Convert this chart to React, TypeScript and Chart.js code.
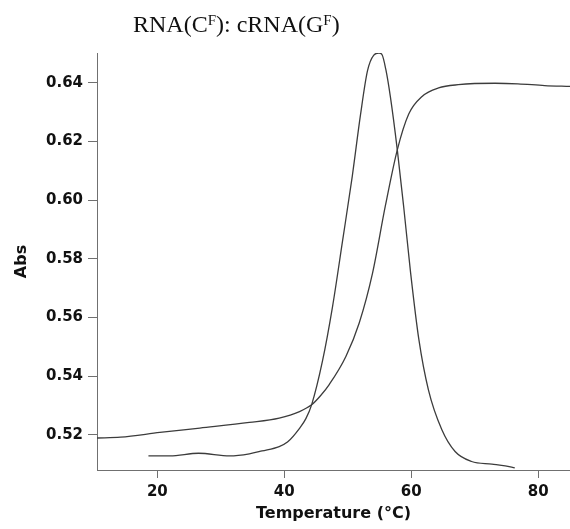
import React, { useEffect, useRef } from "react";
import { Chart, registerables } from "chart.js";

Chart.register(...registerables);

// Melting curve (sigmoid)
const meltTemp = [10.5, 14.2, 20.4, 26.7, 34.5, 39.2, 42.4, 44.3, 45.7, 47.1, 49.7, 51.8, 53.9, 55.9, 57.8, 59.6, 61.7, 64.3, 67.4, 73.2, 76.8, 81.0, 85.0];
const meltAbs = [0.5189, 0.5192, 0.5208, 0.5223, 0.5242, 0.5257, 0.5279, 0.5302, 0.5333, 0.5372, 0.5467, 0.5581, 0.5751, 0.5978, 0.6171, 0.6293, 0.6353, 0.6382, 0.6393, 0.6398, 0.6396, 0.6390, 0.6387];

// Derivative curve (peak)
const derivTemp = [18.6, 22.0, 26.5, 31.4, 34.5, 36.5, 39.2, 40.5, 42.4, 43.4, 44.3, 46.0, 47.6, 49.2, 50.7, 52.0, 53.1, 54.1, 54.9, 55.4, 56.0, 56.7, 57.8, 58.8, 59.9, 61.2, 62.7, 64.8, 66.9, 69.5, 72.7, 74.8, 76.3];
const derivAbs = [0.5128, 0.5128, 0.5137, 0.5128, 0.5135, 0.5145, 0.5160, 0.5175, 0.5222, 0.5255, 0.5302, 0.5450, 0.5637, 0.5864, 0.6080, 0.6290, 0.6440, 0.6494, 0.6501, 0.6495, 0.6444, 0.6353, 0.6171, 0.5978, 0.5751, 0.5524, 0.5353, 0.5218, 0.5143, 0.5109, 0.5100, 0.5094, 0.5087];

const xTicks = [20, 40, 60, 80];
const yTicks = [0.52, 0.54, 0.56, 0.58, 0.6, 0.62, 0.64];

const xMin = 10.5;
const xMax = 85;
const yMin = 0.508;
const yMax = 0.6501;

const lineColor = "#3c3c3c";
const axisColor = "#707070";
const tickFont = { family: "'DejaVu Sans', sans-serif", size: 15, weight: "bold" as const };

export default function App() {
  const ref = useRef<HTMLCanvasElement | null>(null);

  useEffect(() => {
    if (!ref.current) return;
    const chart = new Chart(ref.current, {
      type: "line",
      data: {
        datasets: [
          {
            data: meltTemp.map((t, i) => ({ x: t, y: meltAbs[i] })),
            borderColor: lineColor,
            borderWidth: 1.3,
            pointRadius: 0,
            fill: false,
            cubicInterpolationMode: "monotone",
          },
          {
            data: derivTemp.map((t, i) => ({ x: t, y: derivAbs[i] })),
            borderColor: lineColor,
            borderWidth: 1.3,
            pointRadius: 0,
            fill: false,
            cubicInterpolationMode: "monotone",
          },
        ],
      },
      options: {
        animation: false,
        responsive: false,
        maintainAspectRatio: false,
        layout: { padding: { left: 0, right: 0, top: 53, bottom: 0 } },
        plugins: {
          legend: { display: false },
          tooltip: { enabled: false },
          title: { display: false },
        },
        scales: {
          x: {
            type: "linear",
            min: xMin,
            max: xMax,
            afterBuildTicks: (s: any) => {
              s.ticks = xTicks.map((v) => ({ value: v }));
            },
            afterFit: (s: any) => {
              s.height = 59;
            },
            grid: {
              display: true,
              drawOnChartArea: false,
              drawTicks: true,
              tickLength: 8,
              color: axisColor,
            },
            border: { display: true, color: axisColor, width: 1 },
            ticks: {
              color: "#111",
              font: tickFont,
              padding: 5,
              maxRotation: 0,
              callback: (v: any) => String(v),
            },
            title: {
              display: true,
              text: "Temperature (°C)",
              color: "#111",
              font: { family: "'DejaVu Sans', sans-serif", size: 16, weight: "bold" },
              padding: { top: 0, bottom: 6 },
            },
          },
          y: {
            type: "linear",
            min: yMin,
            max: yMax,
            afterBuildTicks: (s: any) => {
              s.ticks = yTicks.map((v) => ({ value: v }));
            },
            afterFit: (s: any) => {
              s.width = 97;
            },
            grid: {
              display: true,
              drawOnChartArea: false,
              drawTicks: true,
              tickLength: 9,
              color: axisColor,
            },
            border: { display: true, color: axisColor, width: 1 },
            ticks: {
              color: "#111",
              font: tickFont,
              padding: 5,
              callback: (v: any) => Number(v).toFixed(2),
            },
            title: {
              display: true,
              text: "Abs",
              color: "#111",
              font: { family: "'DejaVu Sans', sans-serif", size: 16, weight: "bold" },
              padding: { top: 12, bottom: 0 },
            },
          },
        },
      },
    });
    return () => chart.destroy();
  }, []);

  const supStyle = { fontSize: 15, verticalAlign: "7px", lineHeight: 0 } as const;

  return (
    <div style={{ position: "fixed", left: 0, top: 0, width: 570, height: 529, background: "#fff" }}>
      <canvas ref={ref} width={570} height={529} style={{ position: "absolute", left: 0, top: 0 }} />
      <div
        style={{
          position: "absolute",
          left: 133,
          top: 12,
          fontFamily: "'Liberation Serif', 'Times New Roman', serif",
          fontSize: 24,
          lineHeight: "24px",
          color: "#111",
          whiteSpace: "nowrap",
        }}
      >
        RNA(C<sup style={supStyle}>F</sup>): cRNA(G<sup style={supStyle}>F</sup>)
      </div>
    </div>
  );
}
